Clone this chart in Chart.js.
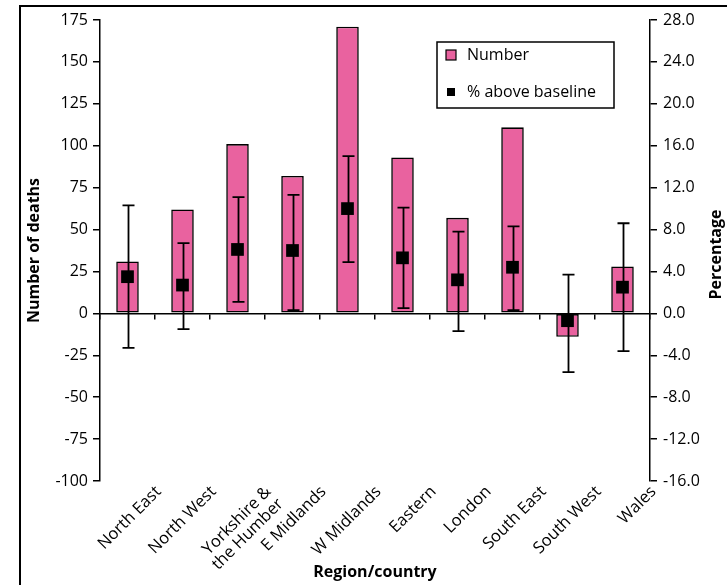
<!DOCTYPE html>
<html>
<head>
<meta charset="utf-8">
<script src="https://cdn.jsdelivr.net/npm/chart.js@4.4.0/dist/chart.umd.min.js"></script>
<style>
  html, body { margin: 0; padding: 0; background: #fff; overflow: hidden; }
  #wrap { position: relative; width: 727px; height: 585px; }
  #frame { position: absolute; left: 19px; top: 5px; width: 800px; height: 700px;
           border-left: 2px solid #000; border-top: 2px solid #000; pointer-events: none; }
</style>
</head>
<body>
<div id="wrap">
  <canvas id="deathsChart" width="727" height="585"></canvas>
  <div id="frame"></div>
</div>
<script>
// data
const regions = ['North East', 'North West', ['Yorkshire &', 'the Humber'], 'E Midlands', 'W Midlands',
                 'Eastern', 'London', 'South East', 'South West', 'Wales'];
const deaths   = [31, 62, 101, 82, 171, 93, 57, 111, -14, 28];
const pctAbove = [3.5, 2.7, 6.1, 6.0, 10.0, 5.3, 3.2, 4.4, -0.7, 2.5];
const pctLow   = [-3.3, -1.5, 1.1, 0.3, 4.9, 0.5, -1.7, 0.3, -5.6, -3.6];
const pctHigh  = [10.3, 6.7, 11.1, 11.3, 15.0, 10.1, 7.8, 8.3, 3.7, 8.6];

const deathTicks = [-100, -75, -50, -25, 0, 25, 50, 75, 100, 125, 150, 175];
const pctTicks   = [-16, -12, -8, -4, 0, 4, 8, 12, 16, 20, 24, 28];

const pink = '#e9629f';
const fontFamily = '"Open Sans", "Noto Sans", sans-serif';

// error bars drawn right after the bars, before the squares
const errorBars = {
  id: 'errorBars',
  afterDatasetDraw(chart, args) {
    if (args.index !== 0) return;
    const { ctx, scales: { x, y2 } } = chart;
    ctx.save();
    ctx.strokeStyle = '#000';
    ctx.lineWidth = 1.8;
    pctHigh.forEach((hi, i) => {
      const px = Math.round(x.getPixelForValue(i)) + 0.5;
      const top = y2.getPixelForValue(hi);
      const bot = y2.getPixelForValue(pctLow[i]);
      ctx.beginPath();
      ctx.moveTo(px, top); ctx.lineTo(px, bot);
      ctx.moveTo(px - 6, top); ctx.lineTo(px + 6, top);
      ctx.moveTo(px - 6, bot); ctx.lineTo(px + 6, bot);
      ctx.stroke();
    });
    ctx.restore();
  }
};

// boxed legend inside the plot and the right axis title
const extras = {
  id: 'extras',
  afterDraw(chart) {
    const { ctx, chartArea } = chart;
    const bx = chartArea.right - 213, by = chartArea.top + 22;
    ctx.save();
    ctx.fillStyle = '#fff';
    ctx.fillRect(bx, by, 177, 66);
    ctx.strokeStyle = '#000';
    ctx.lineWidth = 1.5;
    ctx.strokeRect(bx, by, 177, 66);

    ctx.font = '16px ' + fontFamily;
    ctx.textBaseline = 'middle';
    chart.data.datasets.forEach((ds, i) => {
      const cy = by + 13 + i * 37;
      if (i === 0) {
        ctx.fillStyle = ds.backgroundColor;
        ctx.fillRect(bx + 9, cy - 5, 10, 10);
        ctx.lineWidth = 1.2;
        ctx.strokeRect(bx + 9, cy - 5, 10, 10);
      } else {
        ctx.fillStyle = '#000';
        ctx.fillRect(bx + 10, cy - 4, 8, 8);
      }
      ctx.fillStyle = '#000';
      ctx.fillText(ds.label, bx + 30, cy);
    });

    ctx.translate(chart.width - 11, (chartArea.top + chartArea.bottom) / 2 + 4);
    ctx.rotate(-Math.PI / 2);
    ctx.font = 'bold 16px ' + fontFamily;
    ctx.textAlign = 'center';
    ctx.fillText('Percentage', 0, 0);
    ctx.restore();
  }
};

const ctx = document.getElementById('deathsChart').getContext('2d');
new Chart(ctx, {
  data: {
    labels: regions,
    datasets: [
      {
        type: 'bar',
        label: 'Number',
        data: deaths,
        backgroundColor: pink,
        borderColor: '#000',
        borderWidth: 1.6,
        borderSkipped: false,
        barPercentage: 0.41,
        categoryPercentage: 1,
        yAxisID: 'y',
        order: 2
      },
      {
        type: 'line',
        label: '% above baseline',
        data: pctAbove,
        showLine: false,
        pointStyle: 'rect',
        pointRadius: 9,
        pointBackgroundColor: '#000',
        pointBorderColor: '#000',
        pointBorderWidth: 0,
        yAxisID: 'y2',
        order: 1
      }
    ]
  },
  options: {
    responsive: false,
    animation: false,
    layout: { padding: { left: 0, top: 20, right: 0, bottom: 0 } },
    plugins: { legend: { display: false }, tooltip: { enabled: false } },
    scales: {
      x: {
        position: 'bottom',
        offset: true,
        grid: { display: false, drawTicks: false },
        border: { display: false },
        ticks: {
          autoSkip: false, minRotation: 45, maxRotation: 45,
          padding: 2, labelOffset: 31, color: '#000',
          font: { family: fontFamily, size: 16.5, lineHeight: 1.05 }
        },
        title: {
          display: true, text: 'Region/country', color: '#000',
          font: { family: fontFamily, size: 16, weight: 'bold' },
          padding: { top: 0, bottom: 3 }
        },
        afterFit: s => { s.height = 104; }
      },
      x2: {
        type: 'category',
        position: { y: 0 },
        offset: true,
        grid: { offset: true, drawOnChartArea: false, drawTicks: true, tickLength: 5, color: '#000', lineWidth: 1.5 },
        border: { display: true, color: '#000', width: 1.5 },
        ticks: { display: false }
      },
      y: {
        position: 'left',
        min: deathTicks[0],
        max: deathTicks[deathTicks.length - 1],
        afterBuildTicks: s => { s.ticks = deathTicks.map(v => ({ value: v })); },
        grid: { drawOnChartArea: false, drawTicks: true, tickLength: 7, color: '#000', lineWidth: 1.5 },
        border: { display: true, color: '#000', width: 1.5 },
        ticks: { padding: 5, color: '#000', font: { family: fontFamily, size: 16 } },
        title: {
          display: true, text: 'Number of deaths', color: '#000',
          font: { family: fontFamily, size: 16, weight: 'bold' },
          padding: { top: 25, bottom: 0 }
        },
        afterFit: s => { s.width = 100; }
      },
      y2: {
        position: 'right',
        min: pctTicks[0],
        max: pctTicks[pctTicks.length - 1],
        afterBuildTicks: s => { s.ticks = pctTicks.map(v => ({ value: v })); },
        grid: { drawOnChartArea: false, drawTicks: true, tickLength: 7, color: '#000', lineWidth: 1.5 },
        border: { display: true, color: '#000', width: 1.5 },
        ticks: {
          padding: 6, color: '#000', font: { family: fontFamily, size: 16 },
          callback: v => v.toFixed(1)
        },
        afterFit: s => { s.width = 77; }
      }
    }
  },
  plugins: [errorBars, extras]
});
</script>
</body>
</html>
